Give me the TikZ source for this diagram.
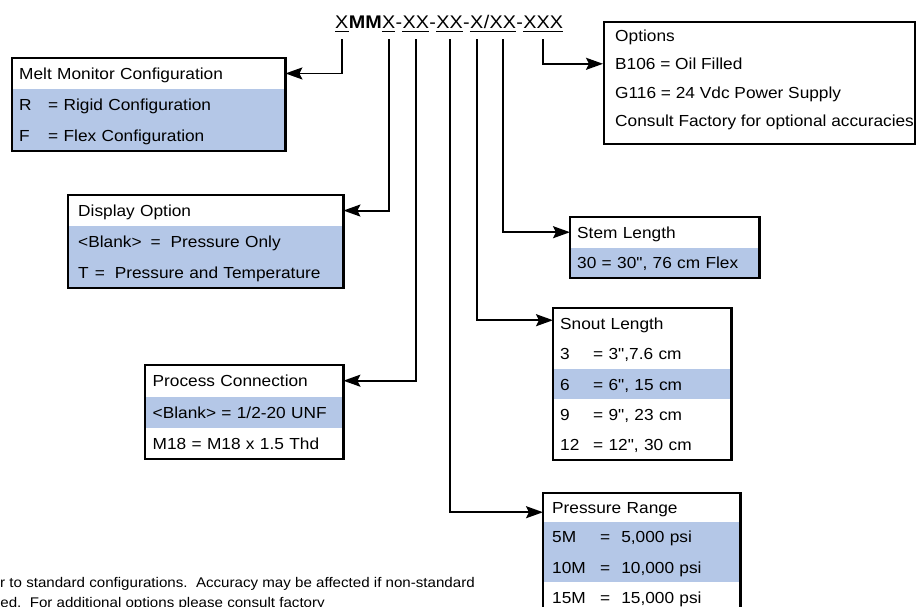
\documentclass[tikz,border=0pt]{standalone}
\usepackage{fontspec}
\setmainfont{Liberation Sans}[FakeStretch=1.08, Ligatures=TeXOff]
\usetikzlibrary{arrows.meta,fit,calc}
\definecolor{rowblue}{RGB}{180,199,231}
\newcommand\kvbox[2]{\makebox[#1][l]{#2}}
\newcommand\rowfnt{\fontsize{16}{19}\selectfont}
\begin{document}
\begin{tikzpicture}[x=1pt,y=-1pt,
  brow/.style={rectangle, anchor=north west, inner ysep=0pt, inner xsep=7pt,
    minimum height=30pt, align=left, text height=12pt, text depth=0pt, font=\rowfnt},
  bluerow/.style={fill=rowblue},
  boxframe/.style={draw, line width=2.2pt, inner sep=0pt},
  conn/.style={line width=1.9pt, -{Stealth[length=17pt,width=12pt,inset=3pt]}},
  codetext/.style={inner sep=0pt, anchor=base west, font=\fontsize{18.3}{22}\selectfont},
  uline/.style={line width=0.8pt},
  opttext/.style={inner sep=0pt, anchor=west, text height=12pt, text depth=0pt, font=\rowfnt},
  note/.style={inner sep=0pt, anchor=base east, font=\fontsize{14}{17}\selectfont}
]
\useasboundingbox (0,0) rectangle (917,606);

% ---- code string ----
\node[codetext] (c1) at (335,28) {X};
\node[codetext] (c2) at (c1.base east) {\bfseries MM};
\node[codetext] (c3) at (c2.base east) {X};
\node[codetext] (h1) at (c3.base east) {-};
\node[codetext] (c4) at (h1.base east) {XX};
\node[codetext] (h2) at (c4.base east) {-};
\node[codetext] (c5) at (h2.base east) {XX};
\node[codetext] (h3) at (c5.base east) {-};
\node[codetext] (c6) at (h3.base east) {X};
\node[codetext] (sl) at (c6.base east) {/};
\node[codetext] (c7) at (sl.base east) {XX};
\node[codetext] (h4) at (c7.base east) {-};
\node[codetext] (c8) at (h4.base east) {XXX};
\foreach \a/\b in {c1/c1,c3/c3,c4/c4,c5/c5,c6/c7,c8/c8}
  \draw[uline] ([yshift=-3.7pt]\a.base west) -- ([yshift=-3.7pt]\b.base east);

% ---- Melt Monitor Configuration ----
\node[brow, text width=259pt, minimum height=30.5pt] (meltH) at (12,58) {Melt Monitor Configuration};
\node[brow, bluerow, text width=259pt, minimum height=30.5pt] (meltR) at (meltH.south west) {\kvbox{29pt}{R}= Rigid Configuration};
\node[brow, bluerow, text width=259pt, minimum height=30.5pt] (meltF) at (meltR.south west) {\kvbox{29pt}{F}= Flex Configuration};
\node[boxframe, fit=(meltH)(meltF)] (melt) {};

% ---- Display Option ----
\node[brow, inner xsep=10pt, text width=255pt, minimum height=30.7pt] (dispH) at (68,195) {Display Option};
\node[brow, bluerow, inner xsep=10pt, text width=255pt, minimum height=30.7pt] (dispB) at (dispH.south west) {<Blank>\hspace{9pt}=\hspace{10pt}Pressure Only};
\node[brow, bluerow, inner xsep=10pt, text width=255pt, minimum height=30.7pt] (dispT) at (dispB.south west) {T\hspace{6pt}=\hspace{10pt}Pressure and Temperature};
\node[boxframe, fit=(dispH)(dispT)] (disp) {};

% ---- Process Connection ----
\node[brow, inner xsep=7.5pt, text width=183pt, minimum height=31pt] (procH) at (145,365) {Process Connection};
\node[brow, bluerow, inner xsep=7.5pt, text width=183pt, minimum height=31pt] (procB) at (procH.south west) {<Blank> = 1/2-20 UNF};
\node[brow, inner xsep=7.5pt, text width=183pt, minimum height=31pt] (procM) at (procB.south west) {M18 = M18 x 1.5 Thd};
\node[boxframe, fit=(procH)(procM)] (proc) {};

% ---- Stem Length ----
\node[brow, text width=175pt, minimum height=30pt] (stH) at (570,217) {Stem Length};
\node[brow, bluerow, text width=175pt, minimum height=30pt] (stV) at (stH.south west) {30 = 30", 76 cm Flex};
\node[boxframe, fit=(stH)(stV)] (stem) {};

% ---- Snout Length ----
\node[brow, text width=164pt, minimum height=30pt] (snH) at (553,308) {Snout Length};
\node[brow, text width=164pt, minimum height=30pt] (sn3) at (snH.south west) {\kvbox{33pt}{3}= 3",7.6 cm};
\node[brow, bluerow, text width=164pt, minimum height=30pt] (sn6) at (sn3.south west) {\kvbox{33pt}{6}= 6", 15 cm};
\node[brow, text width=164pt, minimum height=30pt] (sn9) at (sn6.south west) {\kvbox{33pt}{9}= 9", 23 cm};
\node[brow, text width=164pt, minimum height=30pt] (sn12) at (sn9.south west) {\kvbox{33pt}{12}= 12", 30 cm};
\node[boxframe, fit=(snH)(sn12)] (snout) {};

% ---- Pressure Range ----
\node[brow, inner xsep=9pt, text width=179pt, minimum height=28pt] (prH) at (543,493) {Pressure Range};
\node[brow, bluerow, inner xsep=9pt, text width=179pt, minimum height=30pt] (pr5) at (prH.south west) {\kvbox{48pt}{5M}=\hspace{11pt}5,000 psi};
\node[brow, bluerow, inner xsep=9pt, text width=179pt, minimum height=30pt] (pr10) at (pr5.south west) {\kvbox{48pt}{10M}=\hspace{11pt}10,000 psi};
\node[brow, inner xsep=9pt, text width=179pt, minimum height=30pt] (pr15) at (pr10.south west) {\kvbox{48pt}{15M}=\hspace{11pt}15,000 psi};
\node[boxframe, fit=(prH)(pr15)] (pres) {};

% ---- Options ----
\node[boxframe, minimum width=311pt, minimum height=122pt, anchor=north west] (opt) at (603,21) {};
\node[opttext] (optA) at (615,35.5) {Options};
\node[opttext] (optB) at (615,63.8) {B106 = Oil Filled};
\node[opttext] (optC) at (615,92.2) {G116 = 24 Vdc Power Supply};
\node[opttext] (optD) at (615,120.5) {Consult Factory for optional accuracies};

% ---- connectors ----
\draw[conn] ([yshift=-11pt]c1.base) |- (meltH.east);
\draw[conn] ([yshift=-11pt]c3.base) |- (dispH.east);
\draw[conn] ([yshift=-11pt]c4.base) |- (procH.east);
\draw[conn] ([yshift=-11pt]c5.base) |- ([yshift=-5pt]prH.west);
\draw[conn] ([yshift=-11pt]c6.base) |- ([yshift=3pt]snH.west);
\draw[conn] ([yshift=-11pt]c7.base) |- (stH.west);
\draw[conn] ([yshift=-11pt]c8.base) |- (opt.west |- optB.west);

% ---- note ----
\node[note] (n1) at (475,587) {r to standard configurations.\ \ Accuracy may be affected if non-standard};
\node[note] (n2) at (325,607) {ed.\ \ For additional options please consult factory};
\end{tikzpicture}
\end{document}
